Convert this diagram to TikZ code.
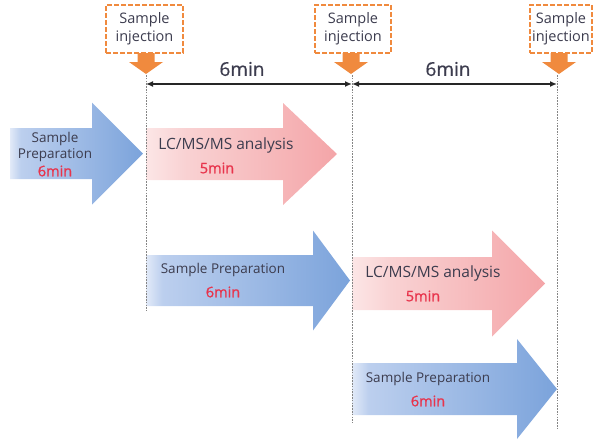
\documentclass[tikz,border=0pt]{standalone}
\usepackage{fontspec}
\setmainfont{Open Sans}
\newfontfamily\heavierfont[FakeBold=1.2]{Open Sans}
\newfontfamily\dimfont[FakeBold=0.6]{Open Sans}
\usetikzlibrary{arrows.meta}

\definecolor{inkdark}{HTML}{3C3C4E}
\definecolor{minred}{HTML}{E8344C}
\definecolor{injorange}{HTML}{F08A3E}
\definecolor{guidegray}{HTML}{858585}
\definecolor{blueA}{HTML}{E2EAF8}
\definecolor{blueB}{HTML}{BCCFEE}
\definecolor{blueC}{HTML}{7BA3DB}
\definecolor{pinkA}{HTML}{FCE6E6}
\definecolor{pinkB}{HTML}{F9D2D3}
\definecolor{pinkC}{HTML}{F4A5A8}

% horizontal fills for the block arrows (the path spans 25bp..75bp)
\pgfdeclarehorizontalshading{prepfill}{100bp}{color(0bp)=(blueA); color(25bp)=(blueA); color(29bp)=(blueB); color(75bp)=(blueC); color(100bp)=(blueC)}
\pgfdeclarehorizontalshading{lcfill}{100bp}{color(0bp)=(pinkA); color(25bp)=(pinkA); color(35bp)=(pinkB); color(75bp)=(pinkC); color(100bp)=(pinkC)}

% block arrow: #1 style, #2 left x, #3 head base x, #4 tip x, #5 body top, #6 body bottom, #7 half head height
\newcommand{\blockarrow}[7]{%
  \path[#1] (#2,#5) -- (#3,#5) -- (#3,{(#5+#6)/2-#7}) -- (#4,{(#5+#6)/2})
    -- (#3,{(#5+#6)/2+#7}) -- (#3,#6) -- (#2,#6) -- cycle;}

% orange drop arrow below an injection box, #1 centre x
\newcommand{\droparrow}[1]{%
  \fill[injorange] ({#1-8.5},53) -- ({#1+8.5},53) -- ({#1+8.5},62) -- ({#1+17},62)
    -- (#1,74) -- ({#1-17},62) -- ({#1-8.5},62) -- cycle;}

\tikzset{
  prep/.style={shading=prepfill},
  lcms/.style={shading=lcfill},
  injbox/.style={draw=injorange, line width=2pt, dash pattern=on 5pt off 2pt,
    inner sep=0pt, align=center, font=\fontsize{14.5}{18}\selectfont, text=inkdark},
  guide/.style={draw=guidegray, line width=0.8pt, dash pattern=on 1.6pt off 1.2pt},
  dimline/.style={draw=black!85, line width=1.4pt, {Latex[length=7pt,width=6pt]}-{Latex[length=7pt,width=6pt]}},
  dimlabel/.style={font=\dimfont\fontsize{19}{21}\selectfont, text=inkdark},
  steptext/.style={font=\fontsize{13.5}{16}\selectfont, text=inkdark},
  lctext/.style={font=\fontsize{15.5}{18}\selectfont, text=inkdark},
  mintext/.style={font=\heavierfont\fontsize{14.5}{16}\selectfont, text=minred},
}

\begin{document}
\begin{tikzpicture}[x=1pt,y=-1pt]
\useasboundingbox (0,0) rectangle (594,442);

% block arrows of the schedule
\blockarrow{prep}{10}{92}{143}{128}{179}{51}
\blockarrow{lcms}{146}{283}{337}{128}{180}{51}
\blockarrow{prep}{146}{313}{350}{255}{306}{50}
\blockarrow{lcms}{352}{492}{545}{257}{310}{53}
\blockarrow{prep}{352}{517}{557}{363}{415}{50}

% guide lines at each injection time
\coordinate (g1t) at (146,75);  \coordinate (g1b) at (146,311);
\coordinate (g2t) at (352,75);  \coordinate (g2b) at (352,423);
\coordinate (g3t) at (557,75);  \coordinate (g3b) at (557,428);
\draw[guide] (g1t) -- (g1b);
\draw[guide] (g2t) -- (g2b);
\draw[guide] (g3t) -- (g3b);

% injection markers
\node[injbox, minimum width=77pt, minimum height=48pt] (inj1) at (144.5,29) {Sample\\injection};
\node[injbox, minimum width=76pt, minimum height=48pt] (inj2) at (353,29) {Sample\\injection};
\node[injbox, minimum width=62pt, minimum height=48pt] (inj3) at (561,29) {Sample\\injection};
\droparrow{146}
\droparrow{351}
\droparrow{559}

% cycle time dimensions
\coordinate (d1) at (146,84);
\coordinate (d2) at (352,84);
\coordinate (d3) at (557,84);
\draw[dimline] (d1) -- (d2);
\draw[dimline] (d2) -- (d3);
\node[dimlabel] (c1) at (242,69) {6min};
\node[dimlabel] (c2) at (448,69) {6min};

% step labels
\node[steptext, align=center] (p1) at (55,147) {Sample\\Preparation};
\node[mintext] (p1t) at (55,171) {6min};
\node[lctext] (a1) at (226,145) {LC/MS/MS analysis};
\node[mintext] (a1t) at (217,168) {5min};
\node[steptext] (p2) at (223,270) {Sample Preparation};
\node[mintext] (p2t) at (223,292) {6min};
\node[lctext] (a2) at (433,273) {LC/MS/MS analysis};
\node[mintext] (a2t) at (423,296) {5min};
\node[steptext] (p3) at (428,379) {Sample Preparation};
\node[mintext] (p3t) at (428,401) {6min};
\end{tikzpicture}
\end{document}
